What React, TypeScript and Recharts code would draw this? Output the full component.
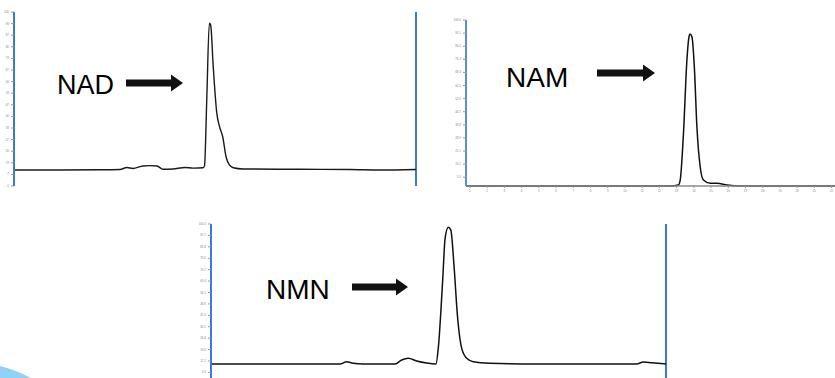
import { LineChart, Line, XAxis, YAxis, ReferenceLine } from 'recharts'

// NAD trace (retention time, relative signal)
const nadTime = [0.75, 3.23, 5.39, 6.46, 6.84, 7.16, 7.7, 8.08, 8.46, 8.78, 9.32, 9.97, 10.4, 10.94, 11.02, 11.14, 11.28, 11.35, 11.49, 11.68, 11.82, 12.0, 12.18, 12.36, 12.57, 13.1, 16.17, 18.86, 20.48, 22.42]
const nadSignal = [9.2, 9.2, 9.3, 9.5, 10.6, 10.1, 11.5, 11.7, 11.5, 9.6, 9.8, 10.6, 10.3, 10.5, 11.5, 49.4, 93.5, 92.5, 68.6, 42.0, 34.5, 28.3, 16.8, 12.1, 10.5, 9.8, 9.6, 9.5, 9.2, 9.5]

// NAM trace
const namTime = [0.77, 12.63, 13.1, 13.21, 13.4, 13.6, 13.71, 13.78, 13.89, 14.03, 14.18, 14.37, 14.56, 14.96, 15.35, 15.93, 16.7, 22.2]
const namSignal = [0, 0, 0.6, 3.6, 31.7, 75.9, 89.2, 91.6, 89.9, 71.9, 35.7, 11.6, 3.6, 1.6, 1.6, 0.6, 0, 0]

// NMN trace
const nmnTime = [0, 5.23, 5.67, 5.96, 6.25, 6.69, 8.09, 8.38, 8.67, 9.04, 9.48, 9.89, 9.99, 10.18, 10.29, 10.43, 10.54, 10.68, 10.83, 11.02, 11.24, 11.53, 12.26, 13.71, 18.71, 19.0, 19.37, 20]
const nmnSignal = [10.3, 10.3, 10.3, 11.7, 10.7, 10.3, 10.3, 12.8, 13.9, 12.2, 10.9, 10.3, 20.3, 63.0, 90.8, 97.9, 96.2, 73.7, 41.7, 20.3, 13.9, 11.7, 10.7, 10.3, 10.3, 11.5, 11.1, 10.3]

const minuteTicks = [1, 2, 3, 4, 5, 6, 7, 8, 9, 10, 11, 12, 13, 14, 15, 16, 17, 18, 19, 20, 21, 22]

const nadYTicks = Array.from({ length: 31 }, (_, i) => (i * 100) / 30)
const namYTicks = Array.from({ length: 39 }, (_, i) => (i * 100) / 38)
const nmnYTicks = Array.from({ length: 42 }, (_, i) => (i * 100) / 41)

const toRows = (t: number[], s: number[]) => t.map((time, i) => ({ time, signal: s[i] }))

const BLUE = '#3b78dc'
const FONT = 'Liberation Sans, Arial, sans-serif'
const tinyTick = { fontSize: 3, fill: '#888', fontFamily: FONT }

function Arrow({ x1, x2, y }: { x1: number; x2: number; y: number }) {
  const head = 12
  return (
    <polygon
      points={`${x1},${y - 3.5} ${x2 - head},${y - 3.5} ${x2 - head},${y - 8.5} ${x2},${y} ${x2 - head},${y + 8.5} ${x2 - head},${y + 3.5} ${x1},${y + 3.5}`}
      fill="#111"
    />
  )
}

export default function App() {
  return (
    <div style={{ position: 'absolute', left: 0, top: 0, width: 835, height: 378, overflow: 'hidden', background: '#fff' }}>
      {/* NAD */}
      <div style={{ position: 'absolute', left: 0, top: 0 }}>
        <LineChart width={420} height={195} data={toRows(nadTime, nadSignal)} margin={{ top: 12, right: 4, bottom: 1, left: 0 }}>
          <XAxis
            dataKey="time"
            type="number"
            domain={[0.75, 22.42]}
            ticks={minuteTicks}
            allowDataOverflow
            axisLine={false}
            tickLine={{ stroke: '#777' }}
            tickSize={3}
            tick={false}
            height={8}
          />
          <YAxis
            domain={[0, 100]}
            ticks={nadYTicks}
            width={14}
            axisLine={{ stroke: BLUE, strokeWidth: 2 }}
            tickLine={{ stroke: '#999' }}
            tickSize={3}
            tick={tinyTick}
            tickFormatter={(v: number) => v.toFixed(0)}
          />
          <ReferenceLine x={22.42} stroke={BLUE} strokeWidth={2} />
          <Line type="monotone" dataKey="signal" stroke="#1a1a1a" strokeWidth={1.4} dot={false} isAnimationActive={false} />
        </LineChart>
      </div>

      {/* NAM */}
      <div style={{ position: 'absolute', left: 440, top: 0 }}>
        <LineChart width={395} height={195} data={toRows(namTime, namSignal)} margin={{ top: 20, right: 0, bottom: 0, left: 0 }}>
          <XAxis
            dataKey="time"
            type="number"
            domain={[0.77, 22.2]}
            ticks={minuteTicks}
            allowDataOverflow
            axisLine={{ stroke: '#888', strokeWidth: 1.5 }}
            tickLine={{ stroke: '#999' }}
            tickSize={2}
            tick={tinyTick}
            height={9}
          />
          <YAxis
            domain={[0, 100]}
            ticks={namYTicks}
            width={26}
            axisLine={{ stroke: '#5b8ee0', strokeWidth: 2 }}
            tickLine={{ stroke: '#999' }}
            tickSize={3}
            tick={tinyTick}
            tickFormatter={(v: number) => v.toFixed(1)}
          />
          <Line type="monotone" dataKey="signal" stroke="#111" strokeWidth={1.5} dot={false} isAnimationActive={false} />
        </LineChart>
      </div>

      {/* NMN */}
      <div style={{ position: 'absolute', left: 180, top: 215 }}>
        <LineChart width={500} height={175} data={toRows(nmnTime, nmnSignal)} margin={{ top: 9, right: 14, bottom: 10, left: 0 }}>
          <XAxis dataKey="time" type="number" domain={[0, 20]} allowDataOverflow hide />
          <YAxis
            domain={[0, 100]}
            ticks={nmnYTicks}
            width={31}
            axisLine={{ stroke: BLUE, strokeWidth: 2 }}
            tickLine={{ stroke: '#999' }}
            tickSize={3}
            tick={tinyTick}
            tickFormatter={(v: number) => v.toFixed(1)}
          />
          <ReferenceLine x={20} stroke={BLUE} strokeWidth={2} />
          <Line type="monotone" dataKey="signal" stroke="#111" strokeWidth={1.5} dot={false} isAnimationActive={false} />
        </LineChart>
      </div>

      {/* labels, arrows and the slide swoosh */}
      <svg width={835} height={378} style={{ position: 'absolute', left: 0, top: 0, pointerEvents: 'none' }}>
        <text x={57} y={94} fontSize={27} fontFamily={FONT} fill="#000">NAD</text>
        <Arrow x1={126} x2={183} y={83} />
        <text x={506} y={87} fontSize={28} fontFamily={FONT} fill="#000">NAM</text>
        <Arrow x1={597} x2={655} y={73} />
        <text x={266} y={299} fontSize={28} fontFamily={FONT} fill="#000">NMN</text>
        <Arrow x1={352} x2={408} y={287} />
        <path d="M0,366 Q16,370 31,378 L0,378 Z" fill="#8fd1f7" />
      </svg>
    </div>
  )
}
